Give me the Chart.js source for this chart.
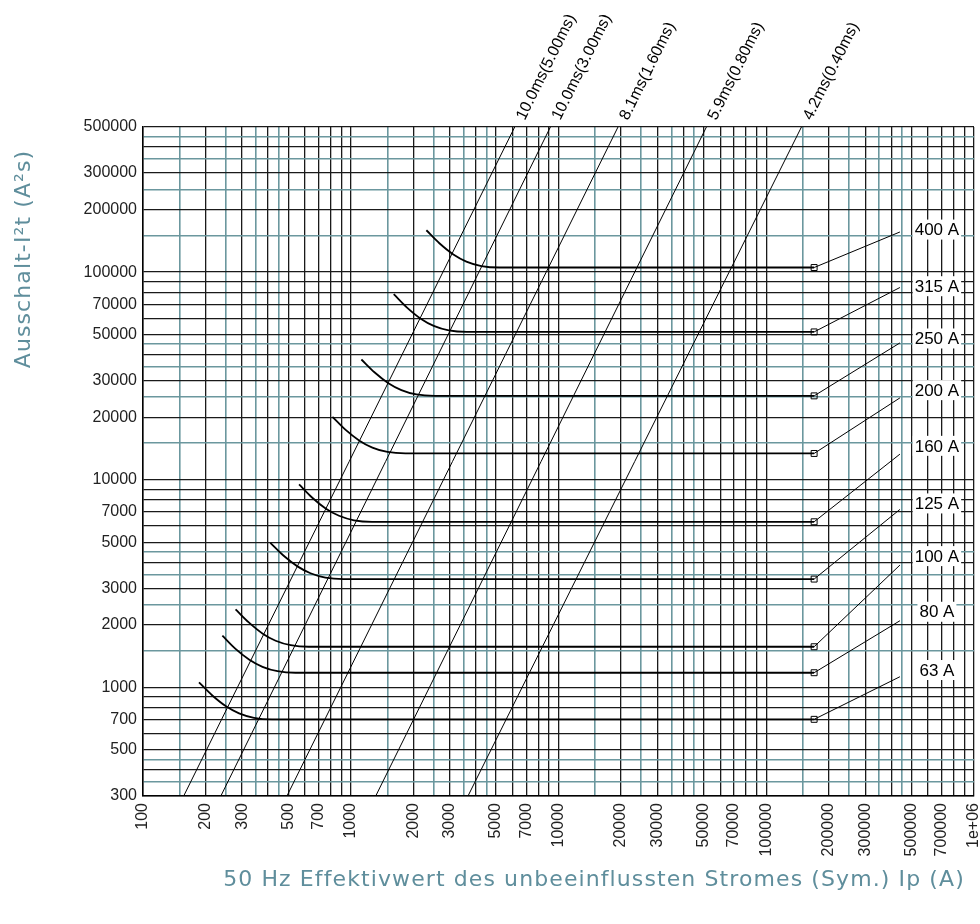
<!DOCTYPE html>
<html>
<head>
<meta charset="utf-8">
<script src="https://cdn.jsdelivr.net/npm/chart.js@4.4.1/dist/chart.umd.min.js"></script>
<style>
  html, body { margin: 0; padding: 0; background: #fff; }
  #wrap { width: 980px; height: 924px; position: relative; }
</style>
</head>
<body>
<div id="wrap"><canvas id="fuseChart"></canvas></div>
<script>
// tick labels shown on the axes
const xTickLabels = [100, 200, 300, 500, 700, 1000, 2000, 3000, 5000, 7000, 10000, 20000, 30000,
  50000, 70000, 100000, 200000, 300000, 500000, 700000, 1000000];
const yTickLabels = [300, 500, 700, 1000, 2000, 3000, 5000, 7000, 10000, 20000, 30000, 50000,
  70000, 100000, 200000, 300000, 500000];

// grid line steps inside each decade (black and teal)
const blackSteps = [1, 2, 3, 4, 5, 6, 7, 8, 9];
const tealSteps = [1.5, 2.5, 3.5, 4.5];

// diagonal I2t lines: current at 300 A2s (bottom) and 500000 A2s (top)
const diagLabels = ['10.0ms(5.00ms)', '10.0ms(3.00ms)', '8.1ms(1.60ms)', '5.9ms(0.80ms)', '4.2ms(0.40ms)'];
const diagBottomX = [157, 237, 493, 1319, 3667];
const diagTopX = [6155, 9141, 19340, 51520, 147700];

// fuse curves (last point carries the square marker)
const ratings = ['400 A', '315 A', '250 A', '200 A', '160 A', '125 A', '100 A', '80 A', '63 A'];
const curveX = [
  [2312, 2671, 3119, 3602, 4254, 5193, 170000],
  [1610, 1860, 2172, 2509, 2963, 3617, 170000],
  [1125, 1300, 1518, 1753, 2070, 2527, 170000],
  [816, 942, 1101, 1271, 1501, 1833, 170000],
  [564, 651, 760, 878, 1037, 1266, 170000],
  [410, 474, 554, 640, 755, 922, 170000],
  [279, 323, 377, 435, 514, 628, 170000],
  [241, 278, 325, 376, 444, 542, 170000],
  [186, 215, 251, 290, 342, 418, 170000]
];
const curveY = [
  [159130, 137700, 121620, 112450, 107010, 105250, 105250],
  [78270, 67630, 59650, 55100, 52410, 51540, 51540],
  [37960, 32960, 29200, 27050, 25770, 25360, 25360],
  [20090, 17430, 15430, 14290, 13610, 13390, 13390],
  [9501, 8218, 7256, 6708, 6382, 6277, 6277],
  [4972, 4319, 3828, 3546, 3379, 3325, 3325],
  [2377, 2056, 1815, 1678, 1597, 1570, 1570],
  [1774, 1537, 1359, 1257, 1197, 1177, 1177],
  [1058, 917, 811, 750, 714, 702, 702]
];

// leader lines and label boxes
const leaderEndX = 440000;
const leaderEndY = [156100, 84340, 45630, 24800, 13290, 7200, 3883, 2095, 1126];
const labelX = 663000;
const labelY = [160300, 85550, 47920, 27020, 14570, 7693, 4290, 2314, 1213];

const teal = '#6b979e';
const titleColor = '#5f8e9c';
const tealValues = new Set();

function gridValues(min, max) {
  const vals = [];
  for (let e = 1; e <= 6; e++) {
    const p = Math.pow(10, e);
    blackSteps.forEach(s => vals.push(Math.round(s * p)));
    tealSteps.forEach(s => { const v = Math.round(s * p); vals.push(v); tealValues.add(v); });
  }
  return vals.filter(v => v >= min && v <= max).sort((a, b) => a - b);
}

const datasets = [];
diagLabels.forEach((lab, i) => {
  datasets.push({
    data: [{ x: diagBottomX[i], y: 300 }, { x: diagTopX[i], y: 500000 }],
    borderColor: '#000', borderWidth: 1, pointRadius: 0
  });
});
ratings.forEach((r, i) => {
  const n = curveX[i].length;
  datasets.push({
    data: curveX[i].map((x, j) => ({ x: x, y: curveY[i][j] })),
    borderColor: '#000', borderWidth: 1.8,
    cubicInterpolationMode: 'monotone',
    pointStyle: 'rect',
    pointRadius: ctx => ctx.dataIndex === n - 1 ? 4.2 : 0,
    pointBorderColor: '#000', pointBorderWidth: 1,
    pointBackgroundColor: 'rgba(0,0,0,0)'
  });
  datasets.push({
    data: [{ x: curveX[i][n - 1], y: curveY[i][n - 1] }, { x: leaderEndX, y: leaderEndY[i] }],
    borderColor: '#000', borderWidth: 1, pointRadius: 0
  });
});

const overlay = {
  id: 'overlay',
  afterDatasetsDraw(chart) {
    const { ctx, scales: { x, y } } = chart;
    ctx.save();
    // diagonal line labels
    ctx.fillStyle = '#000';
    ctx.font = '16px "Liberation Sans", Arial, sans-serif';
    ctx.textAlign = 'left';
    ctx.textBaseline = 'middle';
    diagLabels.forEach((lab, i) => {
      const x0 = x.getPixelForValue(diagBottomX[i]), y0 = y.getPixelForValue(300);
      const x1 = x.getPixelForValue(diagTopX[i]), y1 = y.getPixelForValue(500000);
      const a = Math.atan2(y1 - y0, x1 - x0);
      ctx.save();
      ctx.translate(x1 + Math.cos(a) * 9 + 2, y1 + Math.sin(a) * 9);
      ctx.rotate(a);
      ctx.fillText(lab, 0, 0);
      ctx.restore();
    });
    // rating labels
    ctx.font = '17px "Liberation Sans", Arial, sans-serif';
    ctx.textAlign = 'center';
    ratings.forEach((r, i) => {
      const px = x.getPixelForValue(labelX), py = y.getPixelForValue(labelY[i]);
      const w = ctx.measureText(r).width + 4;
      ctx.fillStyle = '#fff';
      ctx.fillRect(px - w / 2, py - 10, w, 20);
      ctx.fillStyle = '#000';
      ctx.fillText(r, px, py + 1);
    });
    // axis titles
    ctx.fillStyle = titleColor;
    ctx.font = '22px "DejaVu Sans", sans-serif';
    ctx.letterSpacing = '1.1px';
    ctx.fillText('50 Hz Effektivwert des unbeeinflussten Stromes (Sym.) Ip (A)', 594, 880);
    ctx.translate(24, 259);
    ctx.rotate(-Math.PI / 2);
    ctx.fillText('Ausschalt-I\u00B2t (A\u00B2s)', 0, 0);
    ctx.restore();
  }
};

const gridColor = ctx => (ctx.tick && tealValues.has(Math.round(ctx.tick.value))) ? teal : '#1a1a1a';
const gridWidth = ctx => (ctx.tick && tealValues.has(Math.round(ctx.tick.value))) ? 1.6 : 1.3;
const tickFont = { family: '"Liberation Sans", Arial, sans-serif', size: 16 };

new Chart(document.getElementById('fuseChart'), {
  type: 'line',
  data: { datasets: datasets },
  options: {
    responsive: true,
    maintainAspectRatio: false,
    animation: false,
    layout: { padding: { top: 127, right: 6, left: 0, bottom: 0 } },
    plugins: { legend: { display: false }, tooltip: { enabled: false } },
    scales: {
      x: {
        type: 'logarithmic', min: 100, max: 1000000,
        afterBuildTicks: s => { s.ticks = gridValues(100, 1000000).map(v => ({ value: v })); },
        afterFit: s => { s.height = 128; s.paddingLeft = 0; s.paddingRight = 0; },
        grid: { color: gridColor, lineWidth: gridWidth, drawTicks: false },
        border: { color: '#000', width: 1.5 },
        ticks: {
          autoSkip: false, minRotation: 90, maxRotation: 90, padding: 7,
          color: '#222', font: tickFont,
          callback: v => xTickLabels.includes(v) ? (v === 1000000 ? '1e+06' : String(v)) : ''
        }
      },
      y: {
        type: 'logarithmic', min: 300, max: 500000,
        afterBuildTicks: s => { s.ticks = gridValues(300, 500000).map(v => ({ value: v })); },
        afterFit: s => { s.width = 143; },
        grid: { color: gridColor, lineWidth: gridWidth, drawTicks: false },
        border: { color: '#000', width: 1.5 },
        ticks: {
          autoSkip: false, padding: 6, color: '#222', font: tickFont,
          callback: v => yTickLabels.includes(v) ? String(v) : ''
        }
      }
    }
  },
  plugins: [overlay]
});
</script>
</body>
</html>
